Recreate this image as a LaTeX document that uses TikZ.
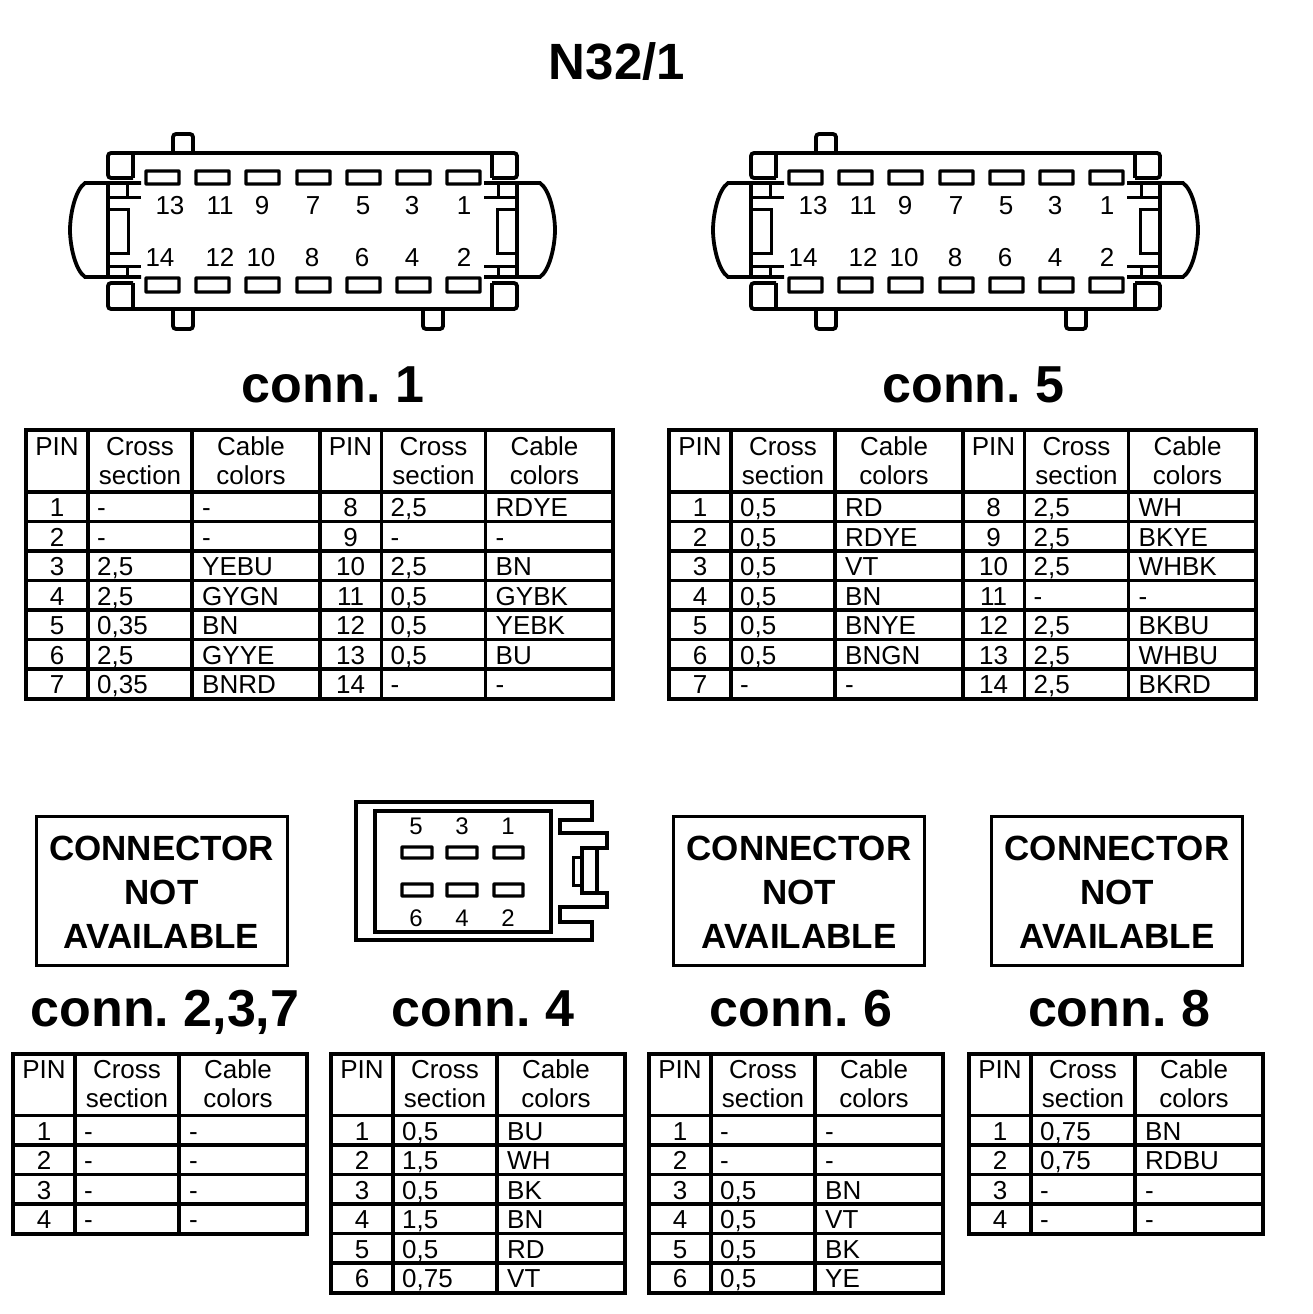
\documentclass[tikz,border=0pt]{standalone}
\usepackage{fontspec}
\setmainfont{Liberation Sans}
\tikzset{
  x=1pt,y=-1pt,
  heavy/.style={line width=4pt,line join=miter},
  medium/.style={line width=3.2pt},
  connline/.style={line width=3.8pt},
  pinbox/.style={line width=3.2pt,rounded corners=0.4pt},
  nolabel/.style={draw=black,line width=3pt,minimum width=251pt,minimum height=149pt,inner sep=0pt},
  pinnum/.style={font=\fontsize{26}{26}\selectfont,inner sep=0pt,anchor=base},
  pinsmall/.style={font=\fontsize{24}{24}\selectfont,inner sep=0pt,anchor=base},
  cell/.style={font=\fontsize{26}{26}\selectfont,inner sep=0pt,anchor=base west},
  cellmid/.style={font=\fontsize{26}{26}\selectfont,inner sep=0pt,anchor=base},
  headline/.style={font=\bfseries\fontsize{52}{52}\selectfont,inner sep=0pt,anchor=base},
  nottext/.style={font=\bfseries\fontsize{35}{44}\selectfont,align=center,inner sep=0pt}
}
% half of the big connector, left side
\newcommand{\connside}{
  \draw[connline,rounded corners=3pt] (133,153) -- (108,153) -- (108,178) -- (133,178);
  \draw[connline,rounded corners=3pt] (133,283) -- (108,283) -- (108,309) -- (133,309);
  \draw[connline] (133,153) -- (133,178);
  \draw[connline] (133,283) -- (133,309);
  \draw[connline] (141,183) -- (85,183) .. controls (75,190) and (70,215) .. (70,230) .. controls (70,245) and (75,270) .. (85,277) -- (141,277);
  \draw[connline] (108,183) -- (108,277);
  \draw[line width=3pt] (108,197) -- (141,197);
  \draw[line width=3pt] (108,266) -- (141,266);
  \draw[line width=3pt] (127,183) -- (127,197);
  \draw[line width=3pt] (127,266) -- (127,277);
  \draw[line width=3pt] (108,209) -- (128,209) -- (128,253) -- (108,253);
}
% big connector with 14 pins
\newcommand{\bigconn}[2]{
  \begin{scope}[shift={(#2,0)}]
    \connside
    \begin{scope}[shift={(625,0)},xscale=-1]
      \connside
    \end{scope}
    \draw[connline] (133,153) -- (492,153);
    \draw[connline] (133,309) -- (492,309);
    \draw[connline,rounded corners=3pt] (173,153) -- (173,134) -- (193,134) -- (193,153);
    \draw[connline,rounded corners=3pt] (173,309) -- (173,329) -- (193,329) -- (193,309);
    \draw[connline,rounded corners=3pt] (423,309) -- (423,329) -- (443,329) -- (443,309);
    \foreach \px in {146,196,246,297,347,397,447}{
      \draw[pinbox] (\px,171) rectangle (\px+33,184);
      \draw[pinbox] (\px,278) rectangle (\px+33,292);
    }
    \foreach \lab/\lx in {13/170,11/220,9/262,7/313,5/363,3/412,1/464}
      \node[pinnum] (#1top\lab) at (\lx,214) {\lab};
    \foreach \lab/\lx in {14/160,12/220,10/261,8/312,6/362,4/412,2/464}
      \node[pinnum] (#1bot\lab) at (\lx,266) {\lab};
  \end{scope}
}
% table: name, left, top, number of rows, rows
\newcommand{\pintable}[5]{
  \draw[medium] (#2,#3+62) -- (#2+293.5,#3+62);
  \node[cellmid] (#1pin) at (#2+31,#3+25) {PIN};
  \node[cellmid] (#1cross) at (#2+114,#3+25) {Cross};
  \node[cellmid] (#1section) at (#2+114,#3+54) {section};
  \node[cellmid] (#1cable) at (#2+225,#3+25) {Cable};
  \node[cellmid] (#1colors) at (#2+225,#3+54) {colors};
  \foreach \pnum/\sect/\colr [count=\r from 0] in {#5}{
    \draw[medium] (#2,#3+62+29.5*\r) -- (#2+293.5,#3+62+29.5*\r);
    \node[cellmid] (#1p\pnum) at (#2+31,#3+86.5+29.5*\r) {\pnum};
    \node[cell] (#1s\pnum) at (#2+71,#3+86.5+29.5*\r) {\sect};
    \node[cell] (#1c\pnum) at (#2+176,#3+86.5+29.5*\r) {\colr};
  }
  \draw[medium] (#2+62,#3) -- (#2+62,#3+62+29.5*#4);
  \draw[medium] (#2+166,#3) -- (#2+166,#3+62+29.5*#4);
  \draw[heavy] (#2,#3) rectangle (#2+293.5,#3+62+29.5*#4);
}
\begin{document}
\frenchspacing
\begin{tikzpicture}
\useasboundingbox (0,0) rectangle (1312,1314);
\node[headline,font=\bfseries\fontsize{51}{51}\selectfont] (title) at (617,80) {N32/1};
\bigconn{a}{0}
\bigconn{e}{643}
\node[headline] (conna) at (333,402.5) {conn. 1};
\node[headline] (conne) at (973.5,402.5) {conn. 5};
\pintable{ta}{26}{430}{7}{1/-/-,2/-/-,3/{2,5}/YEBU,4/{2,5}/GYGN,5/{0,35}/BN,6/{2,5}/GYYE,7/{0,35}/BNRD}
\pintable{tb}{319.5}{430}{7}{8/{2,5}/RDYE,9/-/-,10/{2,5}/BN,11/{0,5}/GYBK,12/{0,5}/YEBK,13/{0,5}/BU,14/-/-}
\pintable{tc}{669}{430}{7}{1/{0,5}/RD,2/{0,5}/RDYE,3/{0,5}/VT,4/{0,5}/BN,5/{0,5}/BNYE,6/{0,5}/BNGN,7/-/-}
\pintable{td}{962.5}{430}{7}{8/{2,5}/WH,9/{2,5}/BKYE,10/{2,5}/WHBK,11/-/-,12/{2,5}/BKBU,13/{2,5}/WHBU,14/{2,5}/BKRD}
\node[nolabel] (nob) at (161.5,890.5) {};
\node[nolabel] (nof) at (799,890.5) {};
\node[nolabel] (noh) at (1117,890.5) {};
\node[nottext] (nobtext) at (161.5,892.5) {CONNECTOR\\NOT\\AVAILABLE};
\node[nottext] (noftext) at (799,892.5) {CONNECTOR\\NOT\\AVAILABLE};
\node[nottext] (nohtext) at (1117,892.5) {CONNECTOR\\NOT\\AVAILABLE};
% small connector with 6 pins
\draw[heavy] (356,802) -- (592,802) -- (592,820) -- (560,820) -- (560,833) -- (607,833) -- (607,848) -- (582,848) -- (582,893) -- (607,893) -- (607,907) -- (560,907) -- (560,922) -- (592,922) -- (592,940) -- (356,940) -- cycle;
\draw[heavy] (375,811) rectangle (551,932);
\draw[heavy] (597,848) -- (597,893);
\draw[line width=3pt] (582,857) -- (573,857) -- (573,885) -- (582,885);
\foreach \px/\pw in {402/30,447/30,494/29}{
  \draw[pinbox] (\px,847) rectangle (\px+\pw,858);
  \draw[pinbox] (\px,884) rectangle (\px+\pw,896);
}
\foreach \lab/\lx in {5/416,3/462,1/508}
  \node[pinsmall] (dtop\lab) at (\lx,834) {\lab};
\foreach \lab/\lx in {6/416,4/462,2/508}
  \node[pinsmall] (dbot\lab) at (\lx,926) {\lab};
\node[headline] (connb) at (165,1026.5) {conn. 2,3,7};
\node[headline] (connd) at (483,1026.5) {conn. 4};
\node[headline] (connf) at (801,1026.5) {conn. 6};
\node[headline] (connh) at (1119,1026.5) {conn. 8};
\pintable{tf}{13}{1053.5}{4}{1/-/-,2/-/-,3/-/-,4/-/-}
\pintable{tg}{331}{1053.5}{6}{1/{0,5}/BU,2/{1,5}/WH,3/{0,5}/BK,4/{1,5}/BN,5/{0,5}/RD,6/{0,75}/VT}
\pintable{th}{649}{1053.5}{6}{1/-/-,2/-/-,3/{0,5}/BN,4/{0,5}/VT,5/{0,5}/BK,6/{0,5}/YE}
\pintable{ti}{969}{1053.5}{4}{1/{0,75}/BN,2/{0,75}/RDBU,3/-/-,4/-/-}
\end{tikzpicture}
\end{document}
